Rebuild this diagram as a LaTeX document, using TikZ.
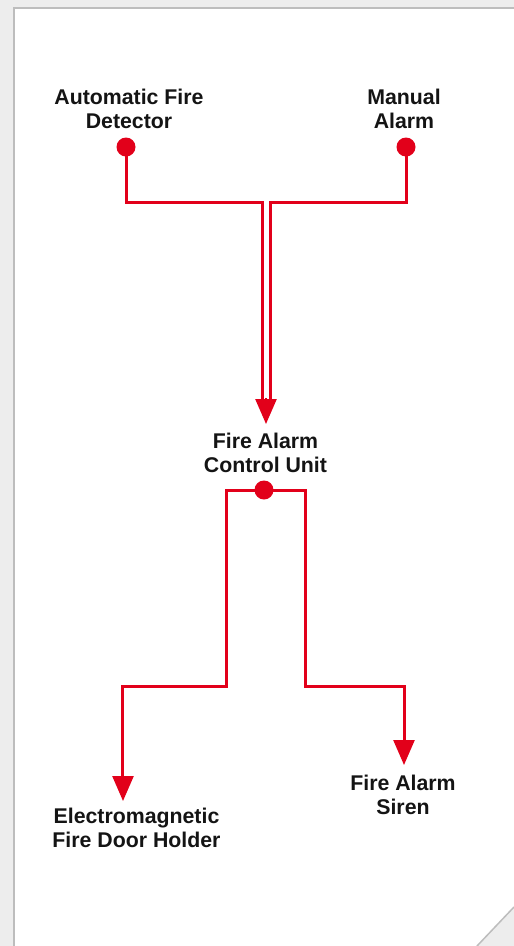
\documentclass[tikz,border=0pt]{standalone}
\usepackage{fontspec}
\setmainfont{Liberation Sans}
\usetikzlibrary{arrows.meta}
\definecolor{alarmred}{HTML}{E2001A}
\definecolor{pagegrey}{HTML}{EDEDED}
\definecolor{edgegrey}{HTML}{BDBDBD}
\tikzset{
  x=1pt,y=-1pt,
  label text/.style={inner sep=0pt,align=center,font=\fontsize{21.3}{24}\selectfont\bfseries,text=black!92},
  dot/.style={circle,fill=alarmred,inner sep=0pt,minimum size=19pt},
  wire/.style={draw=alarmred,line width=3pt,line join=miter},
  tip/.style={draw=alarmred,line width=2.5pt,-{Triangle[length=25pt,width=21pt,sep=0pt]}}
}
\begin{document}
\begin{tikzpicture}
\useasboundingbox (0,0) rectangle (514,946);
\fill[pagegrey] (0,0) rectangle (514,946);
\fill[white] (14,8) -- (514,8) -- (514,907) -- (477,946) -- (14,946) -- cycle;
\draw[edgegrey,line width=2pt] (514,8) -- (14,8) -- (14,946);
\draw[edgegrey,line width=1.5pt] (514,907) -- (477,946);

\node[label text] (afd) at (129,108.5) {Automatic Fire\\Detector};
\node[label text] (ma) at (404,108.5) {Manual\\Alarm};
\node[label text] (fcu) at (265.5,452.5) {Fire Alarm\\Control Unit};
\node[label text] (edh) at (136.5,827.5) {Electromagnetic\\Fire Door Holder};
\node[label text] (sir) at (403,794.5) {Fire Alarm\\Siren};

\node[dot] (d1) at (126,147) {};
\node[dot] (d2) at (406,147) {};
\node[dot] (d3) at (264,490) {};

\coordinate (jl) at (262,202);
\coordinate (jr) at (270,202);
\coordinate (el) at (262,400);
\coordinate (er) at (270,400);
\coordinate (hs) at (266,398);
\coordinate (ht) at (266,424);
\coordinate (la) at (226,490);
\coordinate (lb) at (226,686);
\coordinate (lc) at (122,686);
\coordinate (ra) at (305,490);
\coordinate (rb) at (305,686);
\coordinate (rc) at (404,686);
\coordinate (lt) at (123,801);
\coordinate (rt) at (404,765);

\draw[wire] (d1.center) -- (126,202) -- (jl) -- (el);
\draw[wire] (d2.center) -- (406,202) -- (jr) -- (er);
\draw[tip] (hs) -- (ht);
\draw[wire] (d3.center) -- (la) -- (lb) -- (lc) -- (122,776);
\draw[tip] (123,775) -- (lt);
\draw[wire] (d3.center) -- (ra) -- (rb) -- (rc) -- (404,741);
\draw[tip] (404,739) -- (rt);
\end{tikzpicture}
\end{document}
